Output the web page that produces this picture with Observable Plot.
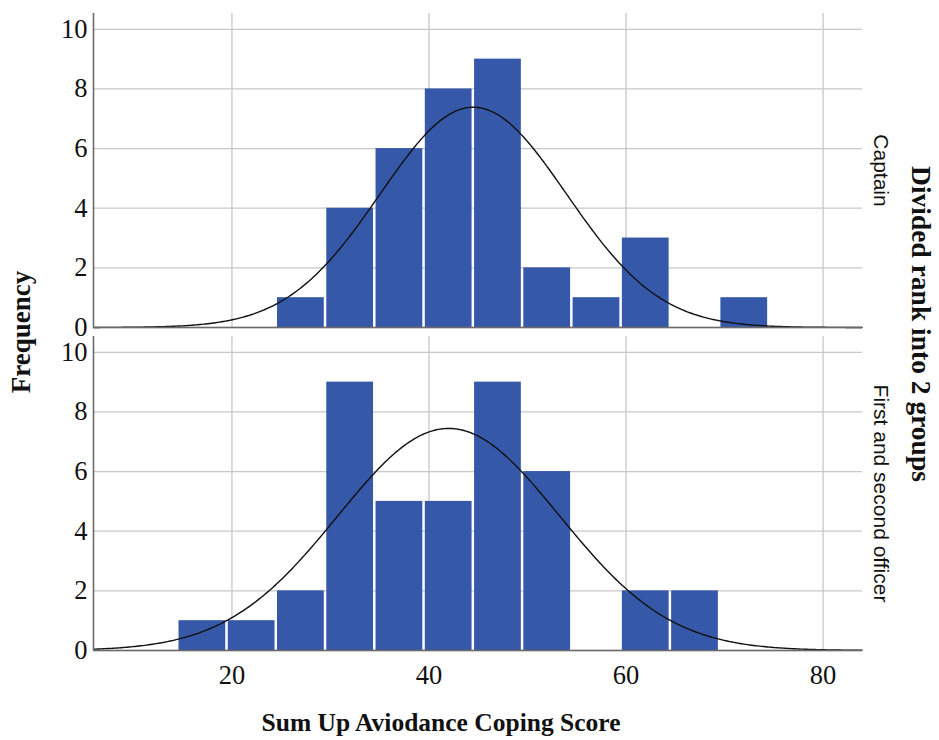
<!DOCTYPE html>
<html>
<head>
<meta charset="utf-8">
<script src="https://cdn.jsdelivr.net/npm/d3@7"></script>
<script src="https://cdn.jsdelivr.net/npm/@observablehq/plot@0.6"></script>
<style>
  body { margin: 0; background: #fff; }
  #chart { width: 939px; height: 740px; }
</style>
</head>
<body>
<div id="chart"></div>
<script>
// Rank groups (one panel each)
const groups = ["Captain", "First and second officer"];

// Histogram bins (lower edges, width 5) and counts per group
const binStarts = [14.5, 19.5, 24.5, 29.5, 34.5, 39.5, 44.5, 49.5, 54.5, 59.5, 64.5, 69.5];
const binWidth = 5;
const captainCounts = [0, 0, 1, 4, 6, 8, 9, 2, 1, 3, 0, 1];
const officerCounts = [1, 1, 2, 9, 5, 5, 9, 6, 0, 2, 2, 0];

// Fitted normal curve parameters per group
const groupN = [35, 42];
const groupMean = [44.5, 42.0];
const groupSD = [9.45, 11.25];

// Axes
const xDomain = [5.95, 84];
const yDomain = [0, 10.53];
const xTicks = [20, 40, 60, 80];
const yTicks = [0, 2, 4, 6, 8, 10];

const xTitle = "Sum Up Aviodance Coping Score";
const yTitle = "Frequency";
const facetTitle = "Divided rank into 2 groups";

// Build bar records
const countsByGroup = [captainCounts, officerCounts];
const bars = [];
groups.forEach((g, gi) => {
  binStarts.forEach((x0, i) => {
    const c = countsByGroup[gi][i];
    if (c > 0) bars.push({group: g, x1: x0, x2: x0 + binWidth, count: c});
  });
});

// Normal density scaled to counts (n * bin width * pdf)
const curve = [];
groups.forEach((g, gi) => {
  const m = groupMean[gi], s = groupSD[gi], scale = groupN[gi] * binWidth;
  for (let x = xDomain[0]; x <= xDomain[1] + 1e-9; x += 0.2) {
    const z = (x - m) / s;
    curve.push({group: g, x, y: scale * Math.exp(-0.5 * z * z) / (s * Math.sqrt(2 * Math.PI))});
  }
});

const serif = "'Liberation Serif', 'Times New Roman', serif";
const sans = "'Liberation Sans', Arial, sans-serif";

const chart = Plot.plot({
  width: 939,
  height: 740,
  marginLeft: 93,
  marginRight: 77,
  marginTop: 12,
  marginBottom: 90,
  style: {fontFamily: serif, background: "#fff", color: "#111", overflow: "visible"},
  x: {domain: xDomain},
  y: {domain: yDomain},
  fy: {domain: groups, paddingInner: 0.028, paddingOuter: 0, axis: null},
  marks: [
    Plot.gridY(yTicks, {stroke: "#c8c8c8", strokeOpacity: 1, strokeWidth: 1.3}),
    Plot.gridX(xTicks, {stroke: "#c8c8c8", strokeOpacity: 1, strokeWidth: 1.3}),
    Plot.rect(bars, {
      x1: "x1", x2: "x2", y1: 0, y2: "count", fy: "group",
      fill: "#3558a9", insetLeft: 1.25, insetRight: 1.25
    }),
    Plot.line(curve, {x: "x", y: "y", z: "group", fy: "group", stroke: "#111", strokeWidth: 1.4}),
    Plot.ruleX([xDomain[0]], {stroke: "#6b6b6b", strokeWidth: 1.6}),
    Plot.ruleY([0], {stroke: "#6b6b6b", strokeWidth: 1.6}),
    Plot.axisY(yTicks, {tickSize: 0, tickPadding: 6, fontSize: 26.5, label: null}),
    Plot.axisX(xTicks, {tickSize: 0, tickPadding: 15, fontSize: 26.5, label: null}),
    Plot.text(groups, {
      fy: d => d, text: d => d, frameAnchor: "right", rotate: 90,
      textAnchor: "middle", lineAnchor: "bottom", dx: 11,
      fontFamily: sans, fontSize: 21, fill: "#111"
    })
  ]
});

document.getElementById("chart").appendChild(chart);

// Axis titles
const svg = d3.select(chart);
svg.append("text")
  .attr("transform", "translate(21,332) rotate(-90)")
  .attr("text-anchor", "middle").attr("dy", "0.35em")
  .attr("font-family", serif).attr("font-weight", "bold").attr("font-size", 27)
  .attr("fill", "#111")
  .text(yTitle);
svg.append("text")
  .attr("x", 441).attr("y", 722)
  .attr("text-anchor", "middle").attr("dy", "0.35em")
  .attr("font-family", serif).attr("font-weight", "bold").attr("font-size", 25.5)
  .attr("fill", "#111")
  .text(xTitle);
svg.append("text")
  .attr("transform", "translate(922,324) rotate(90)")
  .attr("text-anchor", "middle").attr("dy", "0.35em")
  .attr("font-family", serif).attr("font-weight", "bold").attr("font-size", 27.5)
  .attr("fill", "#111")
  .text(facetTitle);
</script>
</body>
</html>
